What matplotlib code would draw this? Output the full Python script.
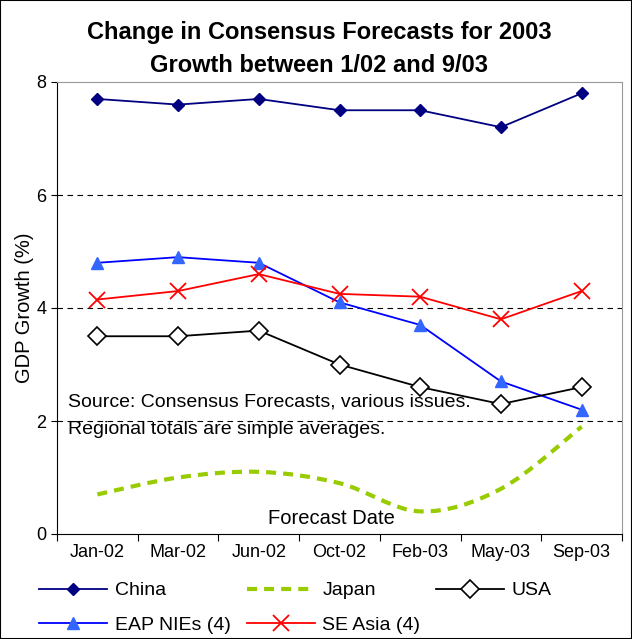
import matplotlib
matplotlib.use('Agg')
import matplotlib.pyplot as plt
import matplotlib.patches as patches
from matplotlib.path import Path
import numpy as np

plt.rcParams['font.family'] = ['Liberation Sans', 'DejaVu Sans']

# Data
dates = ['Jan-02', 'Mar-02', 'Jun-02', 'Oct-02', 'Feb-03', 'May-03', 'Sep-03']
china = [7.7, 7.6, 7.7, 7.5, 7.5, 7.2, 7.8]
japan = [0.7, 1.0, 1.1, 0.9, 0.4, 0.8, 1.9]
usa = [3.5, 3.5, 3.6, 3.0, 2.6, 2.3, 2.6]
eap_nies = [4.8, 4.9, 4.8, 4.1, 3.7, 2.7, 2.2]
se_asia = [4.15, 4.3, 4.6, 4.25, 4.2, 3.8, 4.3]

fig = plt.figure(figsize=(6.32, 6.39), dpi=100)
ax = fig.add_axes([57/632, 1 - 534/639, 565/632, 452/639])

x = np.arange(len(dates))

ax.plot(x, china, color='#000080', lw=1.3, marker='D', ms=6.5,
        mfc='#000080', mec='#000080', label='China')
ax.plot(x, eap_nies, color='#0000FF', lw=1.3, marker='^', ms=8,
        mfc='#3366FF', mec='#3366FF', label='EAP NIEs (4)')

# Japan: smoothed (Excel style) curve through the points
jap_col = '#99CC00'
verts = [(x[0], japan[0])]
codes = [Path.MOVETO]
for i in range(len(x) - 1):
    p0 = np.array([x[max(i - 1, 0)], japan[max(i - 1, 0)]])
    p1 = np.array([x[i], japan[i]])
    p2 = np.array([x[i + 1], japan[i + 1]])
    p3 = np.array([x[min(i + 2, len(x) - 1)], japan[min(i + 2, len(x) - 1)]])
    c1 = p1 + (p2 - p0) / 6
    c2 = p2 - (p3 - p1) / 6
    verts += [tuple(c1), tuple(c2), tuple(p2)]
    codes += [Path.CURVE4] * 3
jdash = (0, (2.4, 1.7))
jpath = patches.PathPatch(Path(verts, codes), fill=False, edgecolor=jap_col,
                          lw=3.0, linestyle=jdash, capstyle='butt')
ax.add_patch(jpath)
ax.plot([], [], color=jap_col, lw=3.0, linestyle=jdash, label='Japan')

ax.plot(x, se_asia, color='#FF0000', lw=1.3, marker='x', ms=11, mew=1.3,
        label='SE Asia (4)')
ax.plot(x, usa, color='black', lw=1.3, marker='D', ms=9, mfc='white',
        mec='black', mew=1.2, label='USA')

ax.set_xlim(-0.5, 6.5)
ax.set_ylim(0, 8)
ax.set_yticks([0, 2, 4, 6, 8])
ax.tick_params(axis='y', labelsize=13, length=4, direction='out')
ax.set_xticks(np.arange(-0.5, 7, 1))
ax.set_xticklabels([])
ax.set_xticks(x, minor=True)
ax.set_xticklabels(dates, minor=True)
ax.tick_params(axis='x', which='major', length=5, direction='out')
ax.tick_params(axis='x', which='minor', length=0, labelsize=13, pad=7)

for yv in [2, 4, 6]:
    ax.axhline(yv, color='black', lw=0.8, linestyle=(0, (5, 4)), zorder=0)

ax.spines['top'].set_color('#999999')
ax.spines['right'].set_color('#999999')

ax.set_ylabel('GDP Growth (%)', fontsize=14.5, labelpad=2)

ax.text(0.02, 0.292, 'Source: Consensus Forecasts, various issues.',
        transform=ax.transAxes, fontsize=14, va='center')
ax.text(0.02, 0.232, 'Regional totals are simple averages.',
        transform=ax.transAxes, fontsize=14, va='center')
ax.text(0.485, 0.035, 'Forecast Date', transform=ax.transAxes, fontsize=14.5,
        ha='center', va='center')

fig.text(319/632, 1 - 33/639, 'Change in Consensus Forecasts for 2003',
         fontsize=17, fontweight='bold', ha='center', va='center')
fig.text(319/632, 1 - 66/639, 'Growth between 1/02 and 9/03',
         fontsize=17, fontweight='bold', ha='center', va='center')

handles, labels = ax.get_legend_handles_labels()
order = ['China', 'EAP NIEs (4)', 'Japan', 'SE Asia (4)', 'USA']
hmap = dict(zip(labels, handles))
fig.legend([hmap[k] for k in order], order, loc='upper left',
           bbox_to_anchor=(0.05, 1 - 574/639), ncol=3, frameon=False,
           fontsize=14, handlelength=3.5, handletextpad=0.4,
           columnspacing=0.8, labelspacing=0.85, borderaxespad=0)

fig.add_artist(patches.Rectangle((0, 0), 1, 1, transform=fig.transFigure,
                                 fill=False, edgecolor='black', lw=1.5))

fig.savefig('out.png', dpi=100, facecolor='white')
